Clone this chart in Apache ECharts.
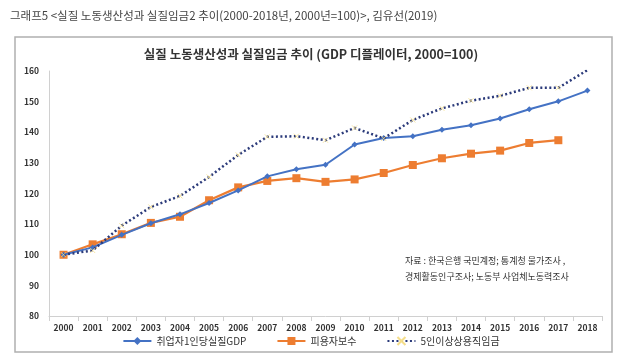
<!DOCTYPE html>
<html><head><meta charset="utf-8">
<script src="https://cdn.jsdelivr.net/npm/echarts@6/dist/echarts.min.js"></script>
<style>html,body{margin:0;padding:0;background:#fff}#c{width:622px;height:358px}</style>
</head><body><div id="c"></div>
<script>
const years = ['2000','2001','2002','2003','2004','2005','2006','2007','2008','2009','2010','2011','2012','2013','2014','2015','2016','2017','2018'];
const gdpPerWorker = [100,102.4,106.5,110.3,113.2,116.9,121.0,125.6,127.9,129.4,136.0,138.1,138.7,140.8,142.3,144.5,147.5,150.1,153.6];
const compensation = [100,103.4,106.7,110.4,112.4,117.8,122.0,124.1,125.0,123.8,124.6,126.7,129.3,131.5,133.0,134.0,136.5,137.4,null];
const wage5plus = [100,101.4,109.5,115.6,119.2,125.4,132.6,138.5,138.7,137.4,141.4,138.0,144.0,147.8,150.3,151.9,154.5,154.5,160.3];
const yTicks = [80,90,100,110,120,130,140,150,160];
const seriesNames = ['취업자1인당실질GDP','피용자보수','5인이상상용직임금'];

const chart = echarts.init(document.getElementById('c'));
const font = '"Noto Sans CJK KR", "Noto Sans", sans-serif';
chart.setOption({
  backgroundColor: '#fff',
  animation: false,
  textStyle: {fontFamily: font},
  title: [
    {text: '그래프5 <실질 노동생산성과 실질임금2 추이(2000-2018년, 2000년=100)>, 김유선(2019)', left: 5, top: 5,
     textStyle: {fontSize: 11.5, fontWeight: 'normal', color: '#444', fontFamily: font}},
    {text: '실질 노동생산성과 실질임금 추이 (GDP 디플레이터, 2000=100)', left: 'center', top: 43,
     textStyle: {fontSize: 12.5, fontWeight: 'bold', color: '#333', fontFamily: font}}
  ],
  graphic: [
    {type: 'rect', shape: {x: 15, y: 37, width: 597, height: 315}, style: {fill: 'none', stroke: '#b0b0b0', lineWidth: 1.5}, z: -1},
    {type: 'text', left: 405, top: 253, style: {text: '자료 : 한국은행 국민계정; 통계청 물가조사 ,\n경제활동인구조사; 노동부 사업체노동력조사', fontSize: 9, lineHeight: 16, fill: '#333', fontFamily: font}}
  ],
  grid: {left: 49, right: 20, top: 71, bottom: 42},
  legend: {
    bottom: 7, left: 'center', itemGap: 30, itemWidth: 28, itemHeight: 10,
    data: seriesNames,
    textStyle: {fontSize: 10, color: '#333', fontFamily: font}
  },
  xAxis: {
    type: 'category', data: years, boundaryGap: true,
    axisLine: {lineStyle: {color: '#d0d0d0'}},
    axisTick: {show: true, lineStyle: {color: '#d0d0d0'}},
    axisLabel: {fontSize: 8.5, color: '#333', margin: 8, fontWeight: 'bold'}
  },
  yAxis: {
    type: 'value', min: yTicks[0], max: yTicks[yTicks.length-1], interval: 10,
    axisLine: {show: true, lineStyle: {color: '#d0d0d0'}},
    axisTick: {show: false},
    splitLine: {show: false},
    axisLabel: {fontSize: 8.5, color: '#333', margin: 10, fontWeight: 'bold'}
  },
  series: [
    {name: seriesNames[0], type: 'line', data: gdpPerWorker, color: '#4472C4',
     symbol: 'diamond', symbolSize: 6, lineStyle: {width: 2, color: '#4472C4'}, itemStyle: {color: '#4472C4'}, z: 3},
    {name: seriesNames[1], type: 'line', data: compensation, color: '#ED7D31',
     symbol: 'rect', symbolSize: 8, lineStyle: {width: 2.2, color: '#ED7D31'}, itemStyle: {color: '#ED7D31'}, z: 2},
    {name: seriesNames[2], type: 'line', data: wage5plus, color: '#2B3A7A',
     symbol: 'path://M0,0L10,10M10,0L0,10', symbolSize: 5,
     lineStyle: {width: 2.5, type: [2, 2.5], color: '#2B3A7A'},
     itemStyle: {color: 'rgba(0,0,0,0)', borderColor: '#F5DE8A', borderWidth: 0.8}, z: 4}
  ]
});
</script></body></html>
